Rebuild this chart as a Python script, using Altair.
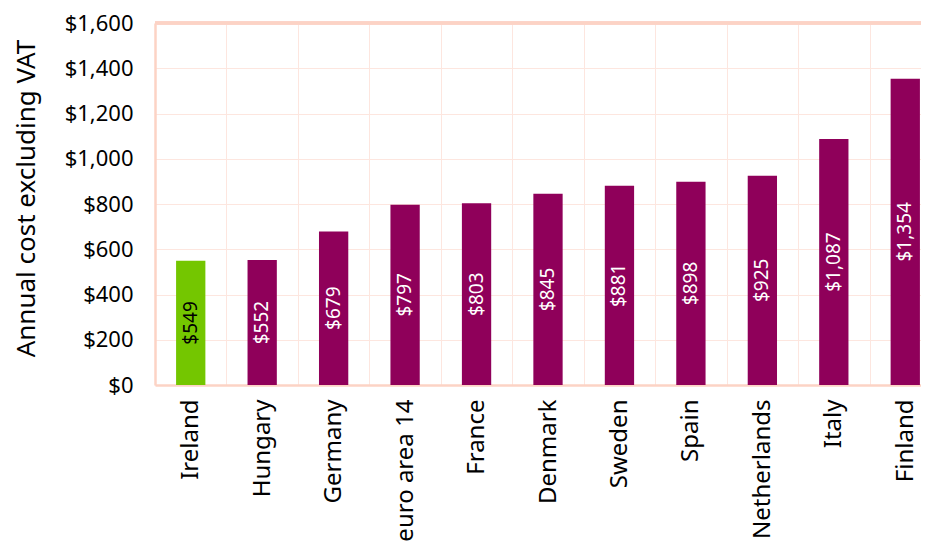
import altair as alt
import pandas as pd

countries = ["Ireland", "Hungary", "Germany", "euro area 14", "France", "Denmark",
             "Sweden", "Spain", "Netherlands", "Italy", "Finland"]
costs = [549, 552, 679, 797, 803, 845, 881, 898, 925, 1087, 1354]
y_ticks = [0, 200, 400, 600, 800, 1000, 1200, 1400, 1600]
highlight = "Ireland"
y_title = "Annual cost excluding VAT"

df = pd.DataFrame({"country": countries, "cost": costs})

PURPLE = "#8F005A"
GREEN = "#74C600"
BORDER = "#FCD3C5"
GRID = "#FDE6DF"
FONT = "Noto Sans"

x_enc = alt.X(
    "country:N", sort=countries,
    scale=alt.Scale(range=[0, 786], paddingInner=0, paddingOuter=0),
    axis=alt.Axis(title=None, labelAngle=-90, labelFontSize=24, labelPadding=14,
                  ticks=False, grid=True, tickBand="extent", gridColor=GRID,
                  gridWidth=1, domainColor=BORDER, domainWidth=2.5,
                  labelColor="#000000", labelFont=FONT),
)
y_enc = alt.Y(
    "cost:Q",
    scale=alt.Scale(domain=[0, 1600], nice=False),
    axis=alt.Axis(title=y_title, values=y_ticks, format="$,.0f", ticks=False,
                  labelFontSize=22, labelPadding=22, labelFont=FONT, labelColor="#000000",
                  gridColor=GRID, gridWidth=1, domainColor=BORDER, domainWidth=2.5,
                  titleFont=FONT, titleFontSize=26, titleFontWeight="normal",
                  titleColor="#000000", titleX=-129, titleY=175,
                  titleAlign="center", titleBaseline="middle"),
)

base = alt.Chart(df)

bars = base.mark_bar(width=alt.RelativeBandSize(0.41)).encode(
    x=x_enc, y=y_enc,
    color=alt.condition(alt.datum.country == highlight, alt.value(GREEN), alt.value(PURPLE)),
)

labels = base.transform_calculate(
    mid="datum.cost / 2",
    label="'$' + format(datum.cost, ',')",
).mark_text(angle=270, align="center", baseline="middle", fontSize=19, font=FONT).encode(
    x=alt.X("country:N", sort=countries),
    y=alt.Y("mid:Q"),
    text="label:N",
    color=alt.condition(alt.datum.country == highlight, alt.value("#000000"), alt.value("#FFFFFF")),
)

top_border = base.mark_rule(color=BORDER, strokeWidth=2.5).encode(y=alt.datum(1600))

chart = alt.layer(bars, labels, top_border).properties(
    width=766, height=362,
    autosize=alt.AutoSizeParams(type="none"),
    padding={"left": 147, "top": 15, "right": 0, "bottom": 160},
    background="#FFFFFF",
).configure_view(strokeWidth=0)

chart.save("out.html", embed_options={"renderer": "svg", "actions": False})
